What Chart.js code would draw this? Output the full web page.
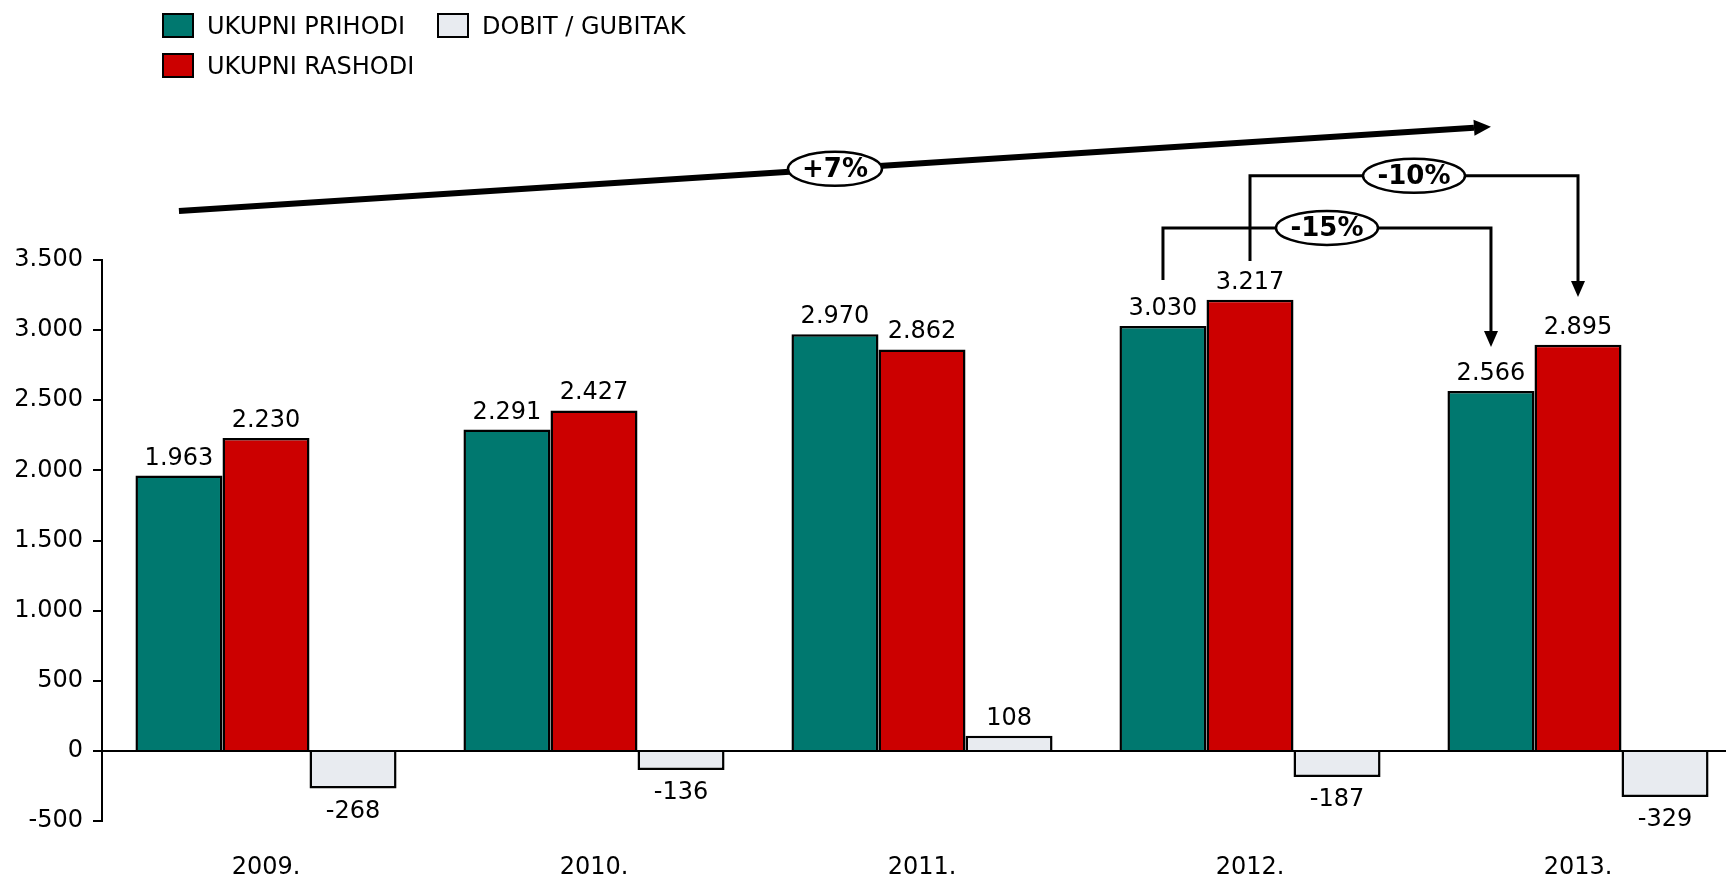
<!DOCTYPE html>
<html>
<head>
<meta charset="utf-8">
<script src="https://cdn.jsdelivr.net/npm/chart.js@4.4.1/dist/chart.umd.min.js"></script>
<style>
  html, body { margin: 0; padding: 0; background: #fff; overflow: hidden; }
  #wrap { position: relative; width: 1760px; height: 879px; }
  #legend { position: absolute; left: 162px; top: 13px; font-family: "DejaVu Sans", Verdana, sans-serif; font-size: 24px; color: #000; }
  .item { position: absolute; white-space: nowrap; height: 26px; line-height: 26px; }
  .box { position: absolute; left: 0; top: 0; width: 28px; height: 21px; border: 2.5px solid #000; }
  .lbl { position: absolute; left: 45px; top: 0px; }
</style>
</head>
<body>
<div id="wrap">
  <canvas id="chart"></canvas>
  <div id="legend"></div>
</div>
<script>
const years = ['2009.', '2010.', '2011.', '2012.', '2013.'];
const prihodi = [1963, 2291, 2970, 3030, 2566];
const rashodi = [2230, 2427, 2862, 3217, 2895];
const dobit = [-268, -136, 108, -187, -329];
const seriesNames = ['UKUPNI PRIHODI', 'UKUPNI RASHODI', 'DOBIT / GUBITAK'];
const seriesColors = ['#00786f', '#cc0000', '#e8ebf0'];
const yMin = -500, yMax = 3500, yStep = 500;

// growth annotations: [dataset, index] of the bars they join, levels in axis units
const trend = { from: [0, 0], to: [0, 4], y1: 3850, y2: 4450, label: '+7%' };
const brackets = [
  { from: [1, 3], to: [1, 4], start: 3493, level: 4100, end: 3236, label: '-10%' },
  { from: [0, 3], to: [0, 4], start: 3357, level: 3729, end: 2879, label: '-15%' }
];

const FONT = '"DejaVu Sans", Verdana, sans-serif';

function fmt(n) {
  const s = String(Math.abs(n)).replace(/\B(?=(\d{3})+(?!\d))/g, '.');
  return n < 0 ? '-' + s : s;
}

// legend (two columns like the original)
const legendPos = [[0, 0], [0, 40], [275, 0]];
const legend = document.getElementById('legend');
seriesNames.forEach((name, i) => {
  const it = document.createElement('div');
  it.className = 'item';
  it.style.left = legendPos[i][0] + 'px';
  it.style.top = legendPos[i][1] + 'px';
  it.innerHTML = '<div class="box" style="background:' + seriesColors[i] + '"></div><span class="lbl">' + name + '</span>';
  legend.appendChild(it);
});

function ellipseLabel(ctx, x, y, w, h, text) {
  ctx.beginPath();
  ctx.ellipse(x, y, w / 2, h / 2, 0, 0, Math.PI * 2);
  ctx.fillStyle = '#fff';
  ctx.fill();
  ctx.lineWidth = 2.5;
  ctx.strokeStyle = '#000';
  ctx.stroke();
  ctx.fillStyle = '#000';
  ctx.font = 'bold 26px ' + FONT;
  ctx.textAlign = 'center';
  ctx.textBaseline = 'middle';
  ctx.fillText(text, x, y + 1);
}

const labelsPlugin = {
  id: 'valueLabels',
  afterDatasetsDraw(chart) {
    const ctx = chart.ctx;
    ctx.save();
    ctx.font = '24px ' + FONT;
    ctx.fillStyle = '#000';
    ctx.textAlign = 'center';
    chart.data.datasets.forEach((ds, d) => {
      chart.getDatasetMeta(d).data.forEach((bar, i) => {
        const v = ds.data[i];
        if (v >= 0) {
          ctx.textBaseline = 'alphabetic';
          ctx.fillText(fmt(v), bar.x, bar.y - 11);
        } else {
          ctx.textBaseline = 'top';
          ctx.fillText(fmt(v), bar.x, bar.y + 11);
        }
      });
    });
    ctx.restore();
  }
};

const annotPlugin = {
  id: 'growth',
  afterDraw(chart) {
    const ctx = chart.ctx;
    const y = chart.scales.y;
    const barX = (p) => chart.getDatasetMeta(p[0]).data[p[1]].x;
    ctx.save();
    ctx.strokeStyle = '#000';
    ctx.fillStyle = '#000';

    // brackets
    brackets.forEach(b => {
      const x1 = barX(b.from), x2 = barX(b.to);
      const ys = y.getPixelForValue(b.start), yl = y.getPixelForValue(b.level), ye = y.getPixelForValue(b.end);
      ctx.lineWidth = 3;
      ctx.beginPath();
      ctx.moveTo(x1, ys);
      ctx.lineTo(x1, yl);
      ctx.lineTo(x2, yl);
      ctx.lineTo(x2, ye - 15);
      ctx.stroke();
      ctx.beginPath();
      ctx.moveTo(x2 - 7, ye - 16);
      ctx.lineTo(x2 + 7, ye - 16);
      ctx.lineTo(x2, ye);
      ctx.closePath();
      ctx.fill();
    });
    brackets.forEach(b => {
      const x1 = barX(b.from), x2 = barX(b.to);
      ellipseLabel(ctx, (x1 + x2) / 2, y.getPixelForValue(b.level), 102, 34, b.label);
    });

    // trend arrow
    const tx1 = barX(trend.from), tx2 = barX(trend.to);
    const ty1 = y.getPixelForValue(trend.y1), ty2 = y.getPixelForValue(trend.y2);
    const ang = Math.atan2(ty2 - ty1, tx2 - tx1);
    const hl = 17, hw = 8;
    const bx = tx2 - hl * Math.cos(ang), by = ty2 - hl * Math.sin(ang);
    ctx.lineWidth = 6;
    ctx.beginPath();
    ctx.moveTo(tx1, ty1);
    ctx.lineTo(bx, by);
    ctx.stroke();
    ctx.beginPath();
    ctx.moveTo(tx2, ty2);
    ctx.lineTo(bx - hw * Math.sin(ang), by + hw * Math.cos(ang));
    ctx.lineTo(bx + hw * Math.sin(ang), by - hw * Math.cos(ang));
    ctx.closePath();
    ctx.fill();
    ellipseLabel(ctx, (tx1 + tx2) / 2, (ty1 + ty2) / 2, 94, 34, trend.label);
    ctx.restore();
  }
};

const canvas = document.getElementById('chart');
new Chart(canvas, {
  type: 'bar',
  data: {
    labels: years,
    datasets: [
      { label: seriesNames[0], data: prihodi, backgroundColor: seriesColors[0] },
      { label: seriesNames[1], data: rashodi, backgroundColor: seriesColors[1] },
      { label: seriesNames[2], data: dobit, backgroundColor: seriesColors[2] }
    ]
  },
  options: {
    responsive: true,
    maintainAspectRatio: false,
    animation: false,
    devicePixelRatio: 1,
    layout: { padding: { top: 260, right: 18, bottom: 0, left: 0 } },
    datasets: {
      bar: { categoryPercentage: 0.796, barPercentage: 1.0, borderColor: '#000', borderWidth: 2.5 }
    },
    plugins: {
      legend: { display: false },
      tooltip: { enabled: false }
    },
    scales: {
      x: {
        grid: { display: false, drawTicks: false },
        border: { display: false },
        ticks: { color: '#000', font: { family: FONT, size: 24 }, padding: 32, autoSkip: false, maxRotation: 0 },
        afterFit(s) { s.height = 58; }
      },
      y: {
        min: yMin,
        max: yMax,
        ticks: { stepSize: yStep, color: '#000', font: { family: FONT, size: 24 }, padding: 10, callback: v => fmt(v) },
        grid: {
          color: c => c.tick && c.tick.value === 0 ? '#000' : 'rgba(0,0,0,0)',
          lineWidth: 2,
          tickColor: '#000',
          tickLength: 9
        },
        border: { display: true, color: '#000', width: 2 },
        afterFit(s) { s.width = 102; }
      }
    }
  },
  plugins: [labelsPlugin, annotPlugin]
});
</script>
</body>
</html>
